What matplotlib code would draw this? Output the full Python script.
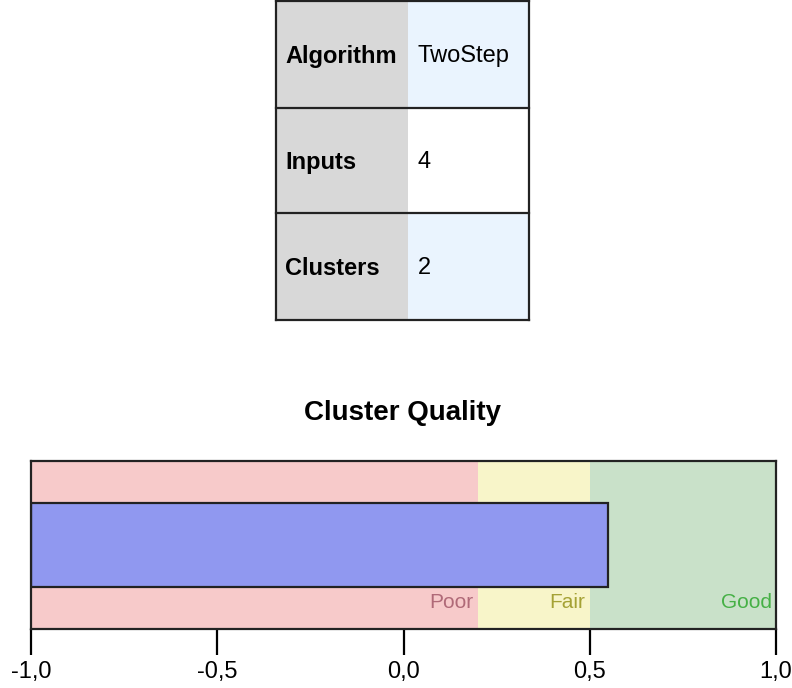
import matplotlib.pyplot as plt
from matplotlib.patches import Rectangle

# table contents
row_labels = ["Algorithm", "Inputs", "Clusters"]
row_values = ["TwoStep", "4", "2"]

# cluster quality
quality = 0.55
zones = [(-1.0, 0.2, "Poor"), (0.2, 0.5, "Fair"), (0.5, 1.0, "Good")]
zone_colors = {"Poor": "#f7caca", "Fair": "#f8f5c9", "Good": "#c9e1c9"}
zone_text = {"Poor": "#b06a78", "Fair": "#a5a235", "Good": "#45b045"}
ticks = [-1.0, -0.5, 0.0, 0.5, 1.0]
tick_labels = ["-1,0", "-0,5", "0,0", "0,5", "1,0"]

FONT = ["Liberation Sans", "DejaVu Sans"]
W, H = 792, 688

fig = plt.figure(figsize=(W / 100, H / 100), dpi=100)

# --- summary table, drawn in pixel coordinates ---
tab = fig.add_axes([0, 0, 1, 1])
tab.set_xlim(0, W)
tab.set_ylim(H, 0)
tab.axis("off")
x0, x1, x2 = 276, 408, 529
row_edges = [0, 108, 213, 320]
right_fill = ["#eaf4fe", "#ffffff", "#eaf4fe"]
for i, (lab, val) in enumerate(zip(row_labels, row_values)):
    top, bot = row_edges[i], row_edges[i + 1]
    tab.add_patch(Rectangle((x0, top), x1 - x0, bot - top, facecolor="#d8d8d8", edgecolor="none"))
    tab.add_patch(Rectangle((x1, top), x2 - x1, bot - top, facecolor=right_fill[i], edgecolor="none"))
    tab.plot([x0, x2], [bot, bot], color="#222222", lw=1.6)
    yc = (top + bot) / 2 + 2
    tab.text(285, yc, lab, ha="left", va="center", fontsize=17, fontweight="bold", family=FONT)
    tab.text(418, yc, val, ha="left", va="center", fontsize=17, family=FONT)
tab.plot([x0, x2], [0.8, 0.8], color="#222222", lw=1.6)
tab.plot([x0, x0], [0, 320], color="#222222", lw=1.6)
tab.plot([x2, x2], [0, 320], color="#222222", lw=1.6)

fig.text(403 / W, 1 - 413 / H, "Cluster Quality", ha="center", va="center",
         fontsize=20, fontweight="bold", family=FONT)

# --- quality bar ---
ax = fig.add_axes([31 / W, (H - 629) / H, 745 / W, 168 / H])
for lo, hi, name in zones:
    ax.axvspan(lo, hi, color=zone_colors[name], lw=0)
    ax.text(hi - 0.012, 0.155, name, ha="right", va="center", fontsize=15,
            color=zone_text[name], family=FONT)
ax.barh(0.5, quality - (-1.0), left=-1.0, height=0.5, color="#9098f0",
        edgecolor="#222222", linewidth=1.6)
ax.set_xlim(-1, 1)
ax.set_ylim(0, 1)
ax.set_yticks([])
ax.set_xticks(ticks)
ax.set_xticklabels(tick_labels, fontsize=17, family=FONT)
ax.tick_params(axis="x", length=19, width=1.6, pad=4)
for sp in ax.spines.values():
    sp.set_linewidth(1.6)
    sp.set_color("#222222")

fig.savefig("out.png", dpi=100)
